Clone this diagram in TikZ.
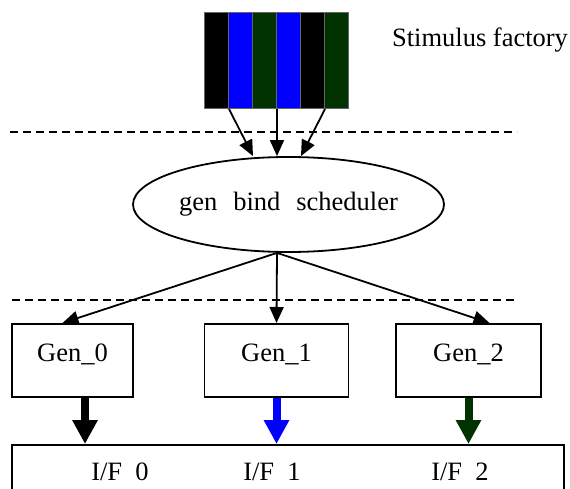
\documentclass[tikz,border=0pt]{standalone}
\usepackage{fontspec}
\setmainfont{Liberation Serif}
\usetikzlibrary{shapes.geometric, arrows.meta}
\definecolor{stimblue}{RGB}{0,0,255}
\definecolor{stimgreen}{RGB}{0,51,0}

\begin{document}
\begin{tikzpicture}[x=1pt, y=-1pt, line width=1.8pt,
  every node/.style={font=\fontsize{26.5}{31}\selectfont},
  stripe/.style={draw=gray!80!black, line width=1pt, minimum width=24pt, minimum height=96pt, inner sep=0pt, anchor=north west},
  genbox/.style={draw, anchor=north, inner sep=0pt, text height=37.7pt, text depth=35.3pt},
  thin arrow/.style={-{Triangle[length=16pt, width=14pt]}},
  bus arrow/.style={line width=8pt, -{Triangle[length=24pt, width=24pt]}},
  sep line/.style={dash pattern=on 8pt off 5pt, line width=1.4pt}]
  \useasboundingbox (0,0) rectangle (570,489);
  \clip (0,0) rectangle (570,489);
  % stimulus factory: six coloured stripes
  \foreach \c [count=\i] in {black, stimblue, stimgreen, stimblue, black, stimgreen}
    \node[stripe, fill=\c] (s\i) at ({204+24*(\i-1)},12) {};
  \node (stimlabel) at (480,40) {Stimulus factory};
  \draw[sep line] (10,132) -- (517,132);
  % scheduler
  \node[ellipse, draw, minimum width=311pt, minimum height=95pt, inner sep=0pt,
    label={center:gen\hspace{0.6em}bind\hspace{0.6em}scheduler}] (sched) at (288.5,204.5) {};
  \draw[thin arrow] (s1.south east) -- ([xshift=-35.5pt]sched.north);
  \draw[thin arrow] (s3.south east) -- ([xshift=-11.5pt]sched.north);
  \draw[thin arrow] (s5.south east) -- ([xshift=12.5pt]sched.north);
  \draw[sep line] (12,300) -- (518,300);
  % generators
  \node[genbox, minimum width=121pt] (gen0) at (72.5,323) {Gen\_0};
  \node[genbox, minimum width=144pt] (gen1) at (276.5,323) {Gen\_1};
  \node[genbox, minimum width=145pt] (gen2) at (468.5,323) {Gen\_2};
  \coordinate (hub) at ([xshift=-11.5pt]sched.south);
  \draw[thin arrow] (hub) -- ([xshift=-10pt]gen0.north);
  \draw[thin arrow] (hub) -- (gen1.north);
  \draw[thin arrow] (hub) -- ([xshift=21pt]gen2.north);
  % interfaces
  \node[draw, anchor=north, minimum width=552pt, minimum height=80pt] (iface) at (288,444) {};
  \node (if0) at (120,472) {I/F\hspace{0.5em}0};
  \node (if1) at (272,472) {I/F\hspace{0.5em}1};
  \node (if2) at (460,472) {I/F\hspace{0.5em}2};
  \coordinate (out0) at ([xshift=12.5pt]gen0.south);
  \draw[bus arrow] (out0) -- (out0 |- iface.north);
  \draw[bus arrow, stimblue] (gen1.south) -- (gen1.south |- iface.north);
  \draw[bus arrow, stimgreen] (gen2.south) -- (gen2.south |- iface.north);
\end{tikzpicture}
\end{document}
